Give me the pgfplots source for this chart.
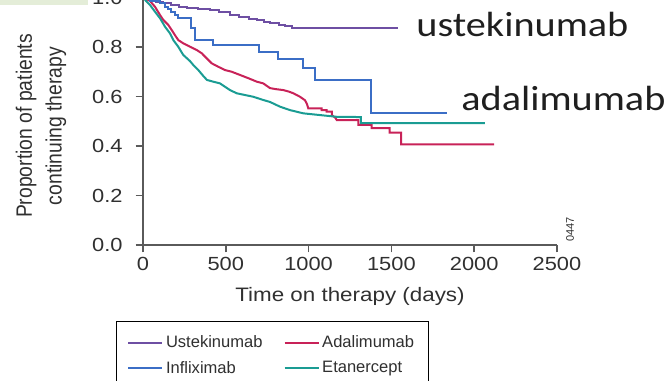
\documentclass[border=0pt]{standalone}
\usepackage{pgfplots}
\usepackage{pgfplotstable}
\pgfplotsset{compat=1.18}
\usepackage{fontspec}
\setmainfont{Liberation Sans}
\newfontfamily\calibri{Carlito}

\definecolor{cUst}{HTML}{6E4FA3}
\definecolor{cAda}{HTML}{C82258}
\definecolor{cInf}{HTML}{3B6EC6}
\definecolor{cEta}{HTML}{1A9C93}
\definecolor{axisgray}{HTML}{5A5A5A}
\definecolor{labelgray}{HTML}{303030}
\definecolor{slidegreen}{HTML}{E4EDD8}

% Kaplan-Meier drug survival, days on therapy vs proportion continuing
\pgfplotstableread{
day prop
0 1.000
40 0.990
80 0.983
121 0.977
170 0.968
220 0.960
266 0.956
330 0.952
405 0.949
460 0.940
525 0.929
580 0.922
640 0.915
688 0.909
730 0.903
767 0.897
820 0.890
860 0.885
900 0.877
1540 0.877
}\ustekinumab

\pgfplotstableread{
day prop
0 1.000
42 0.985
103 0.976
133 0.963
151 0.953
169 0.943
193 0.930
211 0.917
290 0.877
314 0.828
423 0.808
700 0.781
815 0.750
964 0.714
1039 0.667
1375 0.533
1836 0.533
}\infliximab

\pgfplotstableread{
day prop
0 1.000
42 0.986
72 0.963
103 0.929
123 0.909
153 0.889
173 0.869
193 0.848
213 0.828
243 0.815
284 0.801
324 0.788
354 0.775
385 0.754
415 0.734
455 0.720
495 0.707
536 0.700
586 0.687
636 0.674
687 0.660
726 0.653
767 0.634
800 0.630
847 0.626
880 0.620
908 0.613
948 0.599
978 0.585
990 0.570
998 0.552
1079 0.552
1079 0.545
1109 0.545
1109 0.539
1140 0.539
1140 0.525
1160 0.515
1170 0.505
1300 0.505
1300 0.485
1381 0.485
1381 0.472
1490 0.472
1490 0.454
1558 0.454
1558 0.407
2120 0.407
}\adalimumab

\pgfplotstableread{
day prop
0 1.000
20 0.985
42 0.970
72 0.943
103 0.916
133 0.882
163 0.855
183 0.828
213 0.801
243 0.768
284 0.743
304 0.727
334 0.707
364 0.683
386 0.667
429 0.659
465 0.653
525 0.626
566 0.613
616 0.606
666 0.599
726 0.586
767 0.578
827 0.559
888 0.545
968 0.532
1069 0.525
1170 0.518
1316 0.517
1316 0.492
2065 0.492
}\etanercept

\begin{document}
\begin{tikzpicture}
\path[use as bounding box] (0pt,0pt) rectangle (503.25pt,-285pt);
\clip (0pt,0pt) rectangle (503.25pt,-285pt);

\begin{scope}[x=0.75pt,y=-0.75pt]
  \fill[slidegreen] (0,0) rectangle (88,5);
\end{scope}

\begin{axis}[
  at={(107.25pt,-183.75pt)}, anchor=south west,
  scale only axis, width=310.5pt, height=185.625pt,
  xmin=0, xmax=2500, ymin=0, ymax=1,
  clip=false,
  axis lines=left,
  axis line style={-, axisgray, line width=1.2pt},
  xtick={0,500,1000,1500,2000,2500},
  ytick={0,0.2,0.4,0.6,0.8,1},
  tick align=outside,
  major tick length=5.5pt,
  tick style={axisgray, line width=1.1pt},
  /pgf/number format/assume math mode=true,
  yticklabel style={xshift=-5pt, /pgf/number format/.cd, fixed, fixed zerofill, precision=1},
  xticklabel style={/pgf/number format/.cd, fixed, set thousands separator={}},
  tick label style={font=\fontsize{14.25}{16}\selectfont, text=labelgray, xscale=1.15},
  legend columns=2,
  legend cell align=left,
  legend image code/.code={%
    \draw[#1, line width=1.1pt] (0pt,0pt) -- (22.5pt,0pt);
    \path (22.5pt,0pt) -- (25.5pt,0pt);},
  legend style={at={(-0.066,-0.306)}, anchor=north west,
    draw=black, line width=0.9pt, fill=white,
    font=\fontsize{12.4}{14}\selectfont, text=labelgray,
    inner xsep=8.5pt, inner ysep=9pt, row sep=4.4pt,
    /tikz/every even column/.append style={column sep=14pt}},
]
\addplot[const plot, cUst, line width=1.5pt] table[x=day, y=prop] {\ustekinumab};
\addplot[sharp plot, cAda, line width=1.5pt] table[x=day, y=prop] {\adalimumab};
\addplot[const plot, cInf, line width=1.5pt] table[x=day, y=prop] {\infliximab};
\addplot[sharp plot, cEta, line width=1.5pt] table[x=day, y=prop] {\etanercept};
\legend{Ustekinumab, Adalimumab, Infliximab, Etanercept}
\end{axis}

\begin{scope}[x=0.75pt,y=-0.75pt]
  \node[anchor=base, font=\fontsize{14.6}{17}\selectfont, text=labelgray, xscale=1.15]
    at (350,301.7) {Time on therapy (days)};
  \node[rotate=90, yscale=1.15, align=center, text=labelgray,
        font=\fontsize{14.5}{19.5}\selectfont]
    at (41,126) {Proportion of patients\\continuing therapy};
  \node[rotate=90, font=\fontsize{8.25}{9}\selectfont, text=labelgray]
    at (570,229.5) {0447};
  \node[anchor=base west, font=\calibri\fontsize{26.25}{30}\selectfont, xscale=1.15, text=black!88]
    at (411,36) {ustekinumab};
  \node[anchor=base west, font=\calibri\fontsize{26.25}{30}\selectfont, xscale=1.15, text=black!88]
    at (456,110) {adalimumab};
\end{scope}
\end{tikzpicture}
\end{document}
